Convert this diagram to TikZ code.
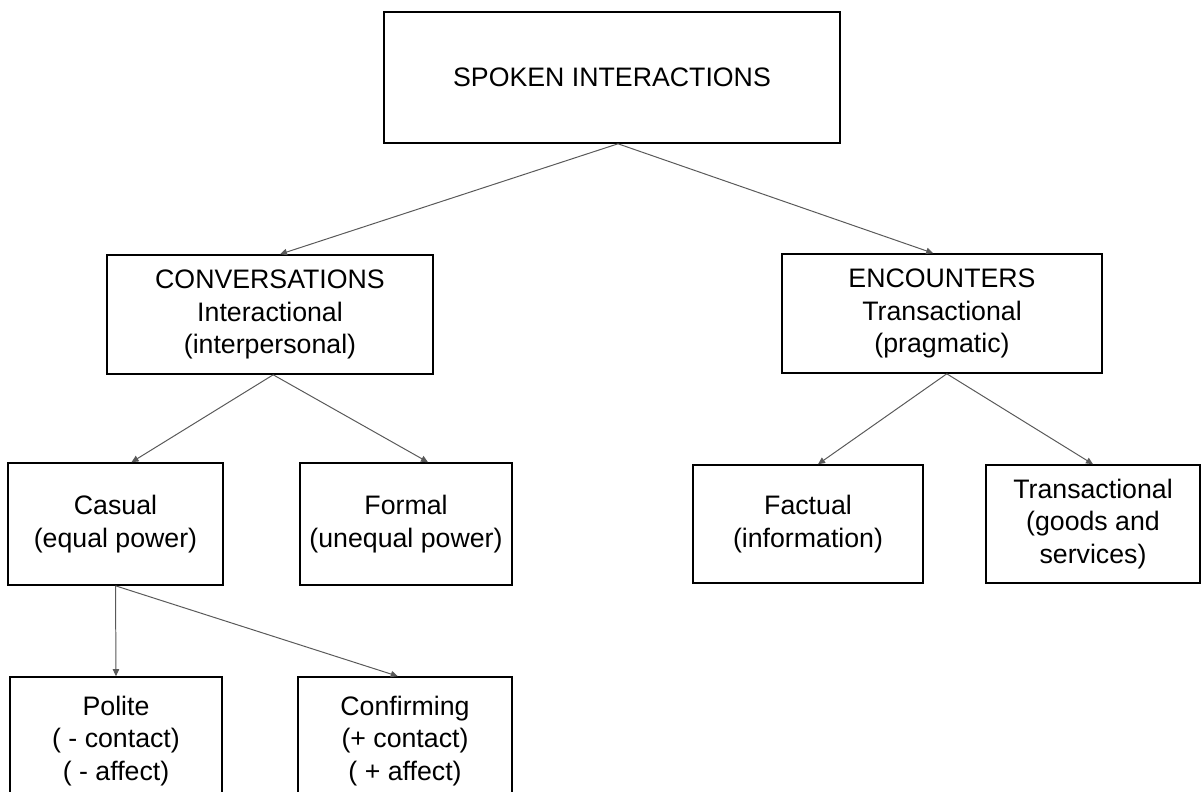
\documentclass[tikz,border=0pt]{standalone}
\usepackage{fontspec}
\setmainfont{Liberation Sans}
\usetikzlibrary{arrows.meta}

\tikzset{
  box/.style = {draw=black, line width=1.1pt, rectangle, align=center,
                font=\fontsize{19}{23}\selectfont, inner sep=2pt},
  link/.style = {draw=black!65, line width=0.7pt,
                 -{Triangle[length=5pt,width=4.5pt]}}
}

\begin{document}
\begin{tikzpicture}[x=0.025cm, y=-0.025cm]
		\clip (0,0) rectangle (1203,791);
		\fill[white] (0,0) rectangle (1203,791);
		\begin{scope}
		% top
		\node[box, minimum width=11.4cm, minimum height=3.275cm] (spoken) at (612,77.5) {SPOKEN INTERACTIONS};
		% second row
		\node[box, minimum width=8.15cm, minimum height=2.975cm] (conv) at (270,314.5) {CONVERSATIONS\\Interactional\\(interpersonal)};
		\node[box, minimum width=8.0cm, minimum height=2.975cm] (enc) at (942,313.5) {ENCOUNTERS\\Transactional\\(pragmatic)};
		% third row
		\node[box, minimum width=5.375cm, minimum height=3.05cm] (casual) at (115.5,524) {Casual\\(equal power)};
		\node[box, minimum width=5.3cm, minimum height=3.05cm] (formal) at (406,524) {Formal\\(unequal power)};
		\node[box, minimum width=5.75cm, minimum height=2.95cm] (factual) at (808,524) {Factual\\(information)};
		\node[box, minimum width=5.35cm, minimum height=2.95cm] (trans) at (1093,524) {Transactional\\(goods and\\services)};
		% bottom row
		\node[box, minimum width=5.3cm, minimum height=3.2cm] (polite) at (116,741) {Polite\\( - contact)\\( - affect)};
		\node[box, minimum width=5.35cm, minimum height=3.2cm] (confirm) at (405,741) {Confirming\\(+ contact)\\( + affect)};

		\draw[link] ([xshift=0.15cm]spoken.south) -- ([xshift=0.25cm]conv.north);
		\draw[link] ([xshift=0.15cm]spoken.south) -- ([xshift=-0.22cm]enc.north);
		\draw[link] ([xshift=0.08cm]conv.south) -- ([xshift=0.4cm]casual.north);
		\draw[link] ([xshift=0.08cm]conv.south) -- ([xshift=0.55cm]formal.north);
		\draw[link] ([xshift=0.12cm]enc.south) -- ([xshift=0.25cm]factual.north);
		\draw[link] ([xshift=0.12cm]enc.south) -- (trans.north);
		\draw[link] (casual.south) -- (polite.north);
		\draw[link] (casual.south) -- ([xshift=-0.18cm]confirm.north);
		\end{scope}
\end{tikzpicture}
\end{document}
